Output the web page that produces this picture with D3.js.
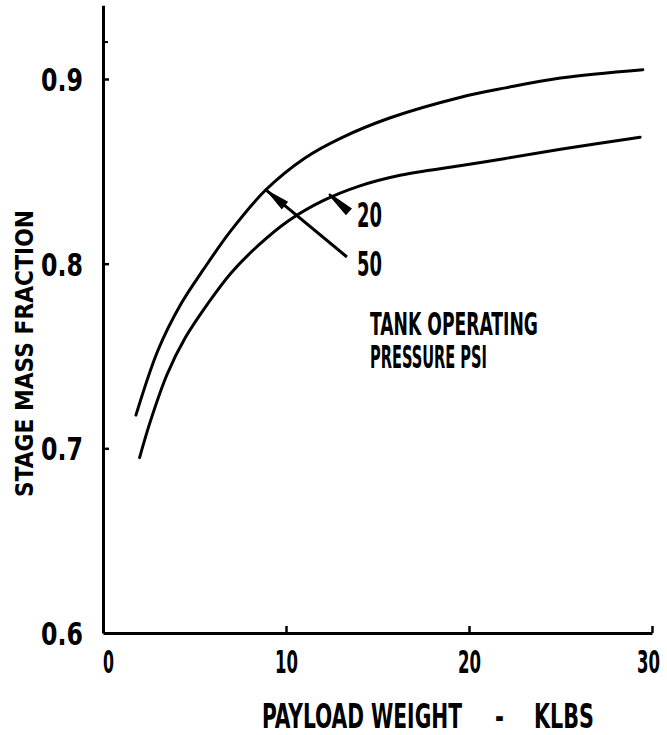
<!DOCTYPE html>
<html>
<head>
<meta charset="utf-8">
<script src="https://cdn.jsdelivr.net/npm/d3@7"></script>
<style>
  html, body { margin: 0; padding: 0; background: #fff; }
  svg { display: block; }
  text { font-family: "DejaVu Sans Condensed", "Liberation Sans Narrow", "DejaVu Sans", sans-serif; font-weight: bold; fill: #000; }
</style>
</head>
<body>
<svg id="chart" width="667" height="735"></svg>
<script>
// ---- data ----
const xTicks = [0, 10, 20, 30];
const yTicks = [0.6, 0.7, 0.8, 0.9];
const yMinorTicks = [0.92];
const xLabelParts = ["PAYLOAD WEIGHT", "-", "KLBS"];
const yLabel = "STAGE MASS FRACTION";

// 50 psi curve (upper)
const psi50X = [1.8, 3.0, 4.25, 5.5, 7.0, 8.9, 11.0, 13.0, 15.7, 19.5, 22.0, 25.0, 29.5];
const psi50Y = [0.718, 0.753, 0.778, 0.797, 0.818, 0.840, 0.857, 0.868, 0.879, 0.890, 0.8952, 0.9005, 0.905];
// 20 psi curve (lower)
const psi20X = [2.0, 2.6, 3.5, 4.5, 5.7, 7.0, 8.5, 10.1, 12.0, 14.0, 16.3, 19.5, 22.0, 25.0, 29.35];
const psi20Y = [0.695, 0.715, 0.740, 0.760, 0.778, 0.795, 0.810, 0.823, 0.834, 0.842, 0.848, 0.853, 0.857, 0.862, 0.8685];

const curveLabels = ["20", "50"];
const noteLines = ["TANK OPERATING", "PRESSURE PSI"];

// ---- helpers ----
const BASE_FS = 20, CAP = 0.729;
// scale a text so that its width and cap height match; anchor (ax, ay) is the baseline point
function fitText(node, ax, ay, w, capH, rot) {
  const t = d3.select(node);
  t.style("font-size", BASE_FS + "px").attr("x", 0).attr("y", 0).attr("dy", null).attr("dx", null);
  const nat = node.getComputedTextLength();
  const sx = w / nat, sy = capH / (CAP * BASE_FS);
  t.attr("transform", `translate(${ax},${ay})${rot ? ` rotate(${rot})` : ""} scale(${sx},${sy})`);
}

// ---- layout ----
const svg = d3.select("#chart");
const x = d3.scaleLinear().domain([0, 30]).range([103, 652]);
const y = d3.scaleLinear().domain([0.6, 0.9]).range([633, 79]);
const yTop = 0.94;

// x axis
const gx = svg.append("g").attr("transform", `translate(0,${y(0.6)})`)
  .call(d3.axisBottom(x).tickValues(xTicks).tickSizeInner(-7).tickSizeOuter(0).tickPadding(17)
    .tickFormat(d3.format("d")));
gx.select(".domain").attr("stroke", "#000").attr("stroke-width", 3);
gx.selectAll(".tick line").attr("stroke", "#000").attr("stroke-width", 2.5);
gx.selectAll(".tick").filter(d => d === 0).select("line").remove();
gx.selectAll(".tick text").each(function (d) {
  fitText(this, d === 30 ? -4 : (d === 0 ? 5 : 0), 40, d === 0 ? 11 : 23, 23);
});

// y axis
const ySc2 = y.copy().domain([0.6, yTop]).range([y(0.6), y(yTop)]);
const gy = svg.append("g").attr("transform", `translate(${x(0)},0)`)
  .call(d3.axisLeft(ySc2).tickValues(yTicks).tickSizeInner(-6).tickSizeOuter(0).tickPadding(20)
    .tickFormat(d3.format(".1f")));
gy.select(".domain").attr("stroke", "#000").attr("stroke-width", 3);
gy.selectAll(".tick line").attr("stroke", "#000").attr("stroke-width", 2.5);
gy.selectAll(".tick").filter(d => d === 0.6).select("line").remove();
gy.selectAll(".tick text").each(function () {
  fitText(this, -20, 11.5, 42, 23);
});

svg.append("g").selectAll("line").data(yMinorTicks).join("line")
  .attr("x1", x(0)).attr("x2", x(0) + 5)
  .attr("y1", d => y(d)).attr("y2", d => y(d))
  .attr("stroke", "#000").attr("stroke-width", 2);

// axis titles
const xLabelPos = [[262, 200], [495, 9], [534, 60]];
svg.append("g").selectAll("text").data(xLabelParts).join("text")
  .text(d => d)
  .each(function (d, i) {
    fitText(this, xLabelPos[i][0], 728, xLabelPos[i][1], 25);
  });

svg.append("text").text(yLabel)
  .each(function () { fitText(this, 33, 497, 287, 18, -90); });

// curves
const line = d3.line().x(d => x(d[0])).y(d => y(d[1])).curve(d3.curveCatmullRom.alpha(0.5));
const series = [d3.zip(psi50X, psi50Y), d3.zip(psi20X, psi20Y)];
svg.append("g").selectAll("path").data(series).join("path")
  .attr("d", line)
  .attr("fill", "none").attr("stroke", "#000").attr("stroke-width", 3)
  .attr("stroke-linecap", "round");

// annotation: 50 leader with arrowhead at the upper curve
const a50Tip = [8.85, 0.8404], a50End = [13.33, 0.8036];
svg.append("line")
  .attr("x1", x(a50Tip[0])).attr("y1", y(a50Tip[1]))
  .attr("x2", x(a50End[0])).attr("y2", y(a50End[1]))
  .attr("stroke", "#000").attr("stroke-width", 3);
{
  const tx = x(a50Tip[0]), ty = y(a50Tip[1]);
  const ex = x(a50End[0]), ey = y(a50End[1]);
  const L = Math.hypot(ex - tx, ey - ty), ux = (ex - tx) / L, uy = (ey - ty) / L;
  const bx = tx + ux * 26, by = ty + uy * 26, px = -uy, py = ux;
  svg.append("path")
    .attr("d", `M${tx},${ty}L${bx + px * 5},${by + py * 5}L${bx - px * 5},${by - py * 5}Z`)
    .attr("fill", "#000");
}
// annotation: 20 wedge
const a20Tip = [12.35, 0.8377], a20Base = [13.44, 0.828];
{
  const tx = x(a20Tip[0]), ty = y(a20Tip[1]);
  const ex = x(a20Base[0]), ey = y(a20Base[1]);
  const L = Math.hypot(ex - tx, ey - ty), ux = (ex - tx) / L, uy = (ey - ty) / L;
  const px = -uy, py = ux;
  svg.append("path")
    .attr("d", `M${tx - px},${ty - py}L${tx + px},${ty + py}L${ex + px * 4.5},${ey + py * 4.5}L${ex - px * 4.5},${ey - py * 4.5}Z`)
    .attr("fill", "#000");
}

// curve labels
const labelPos = [[13.88, 0.8263], [13.88, 0.7998]];
svg.append("g").selectAll("text").data(curveLabels).join("text")
  .text(d => d)
  .each(function (d, i) {
    fitText(this, x(labelPos[i][0]), y(labelPos[i][1]) + 12, 25, 24);
  });

// note text
const noteBase = [0.7614, 0.7435];
const noteWidth = [168, 117];
svg.append("g").selectAll("text").data(noteLines).join("text")
  .text(d => d)
  .each(function (d, i) {
    fitText(this, x(14.59), y(noteBase[i]), noteWidth[i], 23);
  });
</script>
</body>
</html>
